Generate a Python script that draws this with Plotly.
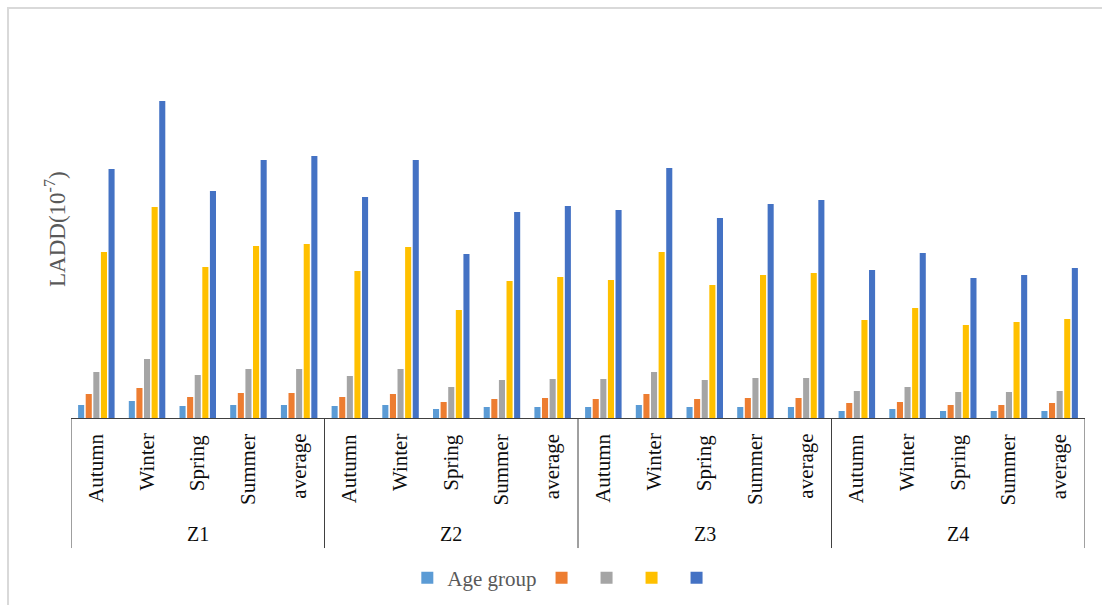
import plotly.graph_objects as go

zones = ["Z1", "Z2", "Z3", "Z4"]
seasons = ["Autumn", "Winter", "Spring", "Summer", "average"]

series_names = ["Age group", "", "", "", ""]
series_colors = ["#5B9BD5", "#ED7D31", "#A5A5A5", "#FFC000", "#4472C4"]

s1 = [0.13, 0.17, 0.12, 0.13, 0.13,  0.12, 0.13, 0.09, 0.11, 0.11,
      0.11, 0.13, 0.11, 0.11, 0.11,  0.07, 0.09, 0.07, 0.07, 0.07]
s2 = [0.24, 0.30, 0.21, 0.25, 0.25,  0.21, 0.24, 0.16, 0.19, 0.20,
      0.19, 0.24, 0.19, 0.20, 0.20,  0.15, 0.16, 0.13, 0.13, 0.15]
s3 = [0.46, 0.59, 0.43, 0.49, 0.49,  0.42, 0.49, 0.31, 0.38, 0.39,
      0.39, 0.46, 0.38, 0.40, 0.40,  0.27, 0.31, 0.26, 0.26, 0.27]
s4 = [1.66, 2.11, 1.51, 1.72, 1.74,  1.47, 1.71, 1.08, 1.37, 1.41,
      1.38, 1.66, 1.33, 1.43, 1.45,  0.98, 1.10, 0.93, 0.96, 0.99]
s5 = [2.49, 3.17, 2.27, 2.58, 2.62,  2.21, 2.58, 1.64, 2.06, 2.12,
      2.08, 2.50, 2.00, 2.14, 2.18,  1.48, 1.65, 1.40, 1.43, 1.50]
series_values = [s1, s2, s3, s4, s5]

y_max = 3.78

# category index positions
cats = [(z, s) for z in zones for s in seasons]
xs = list(range(len(cats)))

fig = go.Figure()
for name, color, vals in zip(series_names, series_colors, series_values):
    fig.add_trace(go.Bar(x=xs, y=vals, name=name, marker=dict(color=color, line=dict(width=0)),
                         showlegend=True))

FONT = "'Liberation Serif', 'DejaVu Serif', serif"
annotations = []
for i, (z, s) in enumerate(cats):
    annotations.append(dict(x=i, y=-0.037, xref="x", yref="paper", text=s, showarrow=False,
                            textangle=-90, xanchor="center", yanchor="top",
                            font=dict(family=FONT, size=21, color="#0d0d0d")))
n_s = len(seasons)
for k, z in enumerate(zones):
    annotations.append(dict(x=k * n_s + (n_s - 1) / 2, y=-0.307, xref="x", yref="paper", text=z,
                            showarrow=False, xanchor="center", yanchor="middle",
                            font=dict(family=FONT, size=20, color="#0d0d0d")))
annotations.append(dict(x=-0.0158, y=0.5, xref="paper", yref="paper",
                        text="LADD(10<sup>-7</sup>)", showarrow=False, textangle=-90,
                        xanchor="center", yanchor="middle",
                        font=dict(family=FONT, size=23, color="#595959")))

shapes = []
for k in range(len(zones) + 1):
    xb = k * n_s - 0.5
    shapes.append(dict(type="line", xref="x", yref="paper", x0=xb, x1=xb, y0=0, y1=-0.344,
                       line=dict(color="#404040", width=1)))
shapes.append(dict(type="rect", xref="paper", yref="paper", x0=-0.0621, x1=1.2, y0=-1.0, y1=1.0847,
                   line=dict(color="#d9d9d9", width=2), layer="below"))

fig.update_layout(
    width=1102, height=605,
    margin=dict(l=71, r=17, t=40, b=187, autoexpand=False),
    paper_bgcolor="white", plot_bgcolor="white",
    barmode="group", bargap=0.25, bargroupgap=0.2,
    xaxis=dict(range=[-0.5, len(cats) - 0.5], showticklabels=False, ticks="",
               showgrid=False, zeroline=False, showline=True, linecolor="#404040", linewidth=1),
    yaxis=dict(range=[0, y_max], visible=False, showgrid=False, zeroline=False),
    legend=dict(orientation="h", x=0.487, xanchor="center",
                yref="container", y=0.0446, yanchor="middle",
                font=dict(family=FONT, size=21, color="#595959"), itemwidth=30,
                bgcolor="rgba(0,0,0,0)"),
    annotations=annotations, shapes=shapes,
    font=dict(family=FONT),
)

fig.write_html("out.html")
